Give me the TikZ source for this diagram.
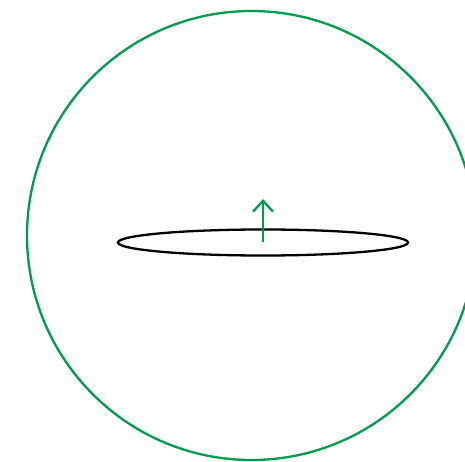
\documentclass[tikz,border=0pt]{standalone}
\usetikzlibrary{arrows.meta}
\definecolor{sgreen}{RGB}{0,155,77}
\begin{document}
\begin{tikzpicture}[x=1pt,y=-1pt,
  sphere/.style={draw=sgreen,line width=2.3pt},
  disk/.style={draw=black,line width=2.3pt},
  normal/.style={draw=sgreen,line width=2.3pt,-{Straight Barb[length=11pt,width=20pt,line width=2.3pt]}}]
\useasboundingbox (0,0) rectangle (465,462);
\clip (0,0) rectangle (465,462);
\draw[sphere] (251.5,235.5) circle[radius=224.5];
\draw[disk] (263,242.5) ellipse[x radius=145,y radius=13];
\coordinate (base) at (263,242);
\coordinate (tip) at (263,199);
\draw[normal] (base) -- (tip);
\end{tikzpicture}
\end{document}
